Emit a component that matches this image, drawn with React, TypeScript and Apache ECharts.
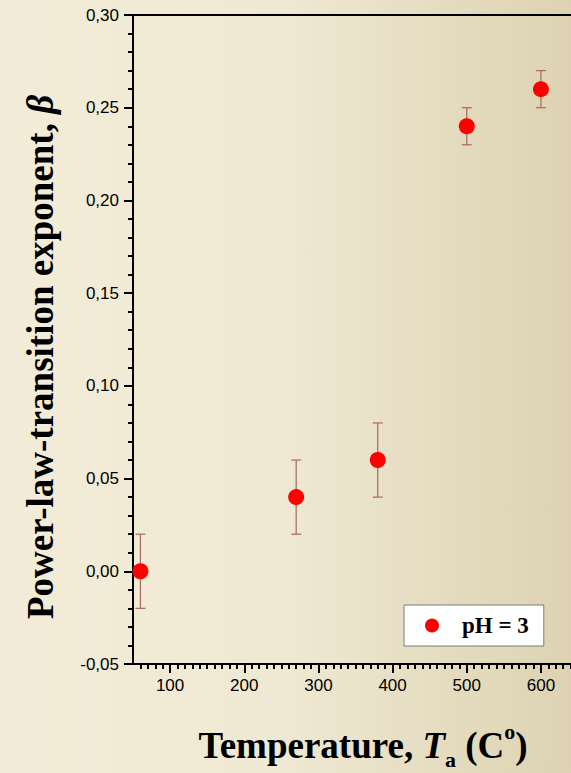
import React, { useEffect, useRef } from "react";
import * as echarts from "echarts";

// Data
const temperatures = [60, 270, 380, 500, 600];
const betaValues = [0.0, 0.04, 0.06, 0.24, 0.26];
const betaErrors = [0.02, 0.02, 0.02, 0.01, 0.01];
const seriesName = "pH = 3";
const yTitle = "Power-law-transition exponent, ";
const xTitle = "Temperature, ";
const xMajorTicks = [100, 200, 300, 400, 500, 600];
const xMinorTicks: number[] = [];
for (let v = 60; v < 650; v += 10) if (v % 100 !== 0) xMinorTicks.push(v);

const BG_LEFT = "#f3ecd8";
const BG_MID = "#efe8d2";
const BG_RIGHT = "#ddd3b2";

export default function App() {
  const ref = useRef<HTMLDivElement>(null);
  useEffect(() => {
    if (!ref.current) return;
    const chart = echarts.init(ref.current, undefined, { renderer: "svg" });
    const scatterData = temperatures.map((t, i) => [t, betaValues[i]]);
    const errData = temperatures.map((t, i) => [
      t,
      betaValues[i] - betaErrors[i],
      betaValues[i] + betaErrors[i],
    ]);
    const tickLabel = {
      color: "#000",
      fontFamily: "Liberation Sans, Arial, sans-serif",
      fontSize: 17,
    };
    const blackLine = { color: "#000", width: 2 };
    const gridRect = { left: 133, top: 15, width: 445, height: 649, outerBoundsMode: "none", containLabel: false };
    const option: any = {
      animation: false,
      backgroundColor: "transparent",
      grid: [gridRect, gridRect],
      xAxis: [
        {
          gridIndex: 0,
          type: "value",
          min: 50,
          max: 650,
          position: "bottom",
          axisLine: { show: true, onZero: false, lineStyle: blackLine },
          axisTick: { show: true, length: 9, lineStyle: blackLine, customValues: xMajorTicks },
          splitLine: { show: false },
          axisLabel: { ...tickLabel, margin: 13, customValues: xMajorTicks },
        },
        {
          gridIndex: 0,
          type: "value",
          min: 50,
          max: 650,
          position: "top",
          axisLine: { show: true, onZero: false, lineStyle: blackLine },
          axisTick: { show: false },
          axisLabel: { show: false },
          splitLine: { show: false },
        },
        {
          gridIndex: 1,
          type: "value",
          min: 50,
          max: 650,
          position: "bottom",
          axisLine: { show: false, onZero: false },
          axisTick: { show: true, length: 5, lineStyle: blackLine, customValues: xMinorTicks },
          axisLabel: { show: false },
          splitLine: { show: false },
        },
      ],
      yAxis: [
        {
          gridIndex: 0,
          type: "value",
          min: -0.05,
          max: 0.3,
          interval: 0.05,
          axisLine: { show: true, onZero: false, lineStyle: blackLine },
          axisTick: { show: true, length: 9, lineStyle: blackLine },
          minorTick: { show: true, splitNumber: 5, length: 5, lineStyle: blackLine },
          splitLine: { show: false },
          axisLabel: {
            ...tickLabel,
            margin: 14,
            formatter: (v: number) =>
              (Math.abs(v) < 1e-9 ? 0 : v).toFixed(2).replace(".", ","),
          },
        },
        {
          gridIndex: 1,
          type: "value",
          min: -0.05,
          max: 0.3,
          show: false,
        },
      ],
      legend: {
        show: true,
        left: 404,
        top: 605,
        orient: "horizontal",
        backgroundColor: "#ffffff",
        borderColor: "#7a7a7a",
        borderWidth: 1,
        borderRadius: 0,
        padding: [9, 15, 9, 21],
        itemWidth: 14,
        itemHeight: 14,
        data: [{ name: seriesName, icon: "circle" }],
        textStyle: {
          color: "#000",
          fontFamily: "Liberation Serif, Times New Roman, serif",
          fontWeight: "bold",
          fontSize: 23,
          lineHeight: 16,
          padding: [0, 0, 0, 18],
        },
      },
      series: [
        {
          type: "custom",
          name: "errors",
          xAxisIndex: 0,
          yAxisIndex: 0,
          data: errData,
          z: 2,
          renderItem: (params: any, api: any) => {
            const x = api.value(0);
            const lo = api.coord([x, api.value(1)]);
            const hi = api.coord([x, api.value(2)]);
            const w = 5;
            const style = { stroke: "#a8685f", lineWidth: 1.2 };
            return {
              type: "group",
              children: [
                { type: "line", shape: { x1: hi[0], y1: hi[1], x2: lo[0], y2: lo[1] }, style },
                { type: "line", shape: { x1: hi[0] - w, y1: hi[1], x2: hi[0] + w, y2: hi[1] }, style },
                { type: "line", shape: { x1: lo[0] - w, y1: lo[1], x2: lo[0] + w, y2: lo[1] }, style },
              ],
            };
          },
        },
        {
          type: "scatter",
          name: seriesName,
          xAxisIndex: 0,
          yAxisIndex: 0,
          data: scatterData,
          symbol: "circle",
          symbolSize: 16,
          itemStyle: { color: "#ff0000", opacity: 1 },
          z: 3,
        },
      ],
      graphic: [
        {
          type: "text",
          z: 100,
          x: 40,
          y: 357,
          rotation: Math.PI / 2,
          style: {
            text: `{n|${yTitle}}{b|β}`,
            align: "center",
            verticalAlign: "middle",
            fill: "#000",
            rich: {
              n: {
                fontFamily: "Liberation Serif, Times New Roman, serif",
                fontWeight: "bold",
                fontSize: 37,
                fill: "#000",
              },
              b: {
                fontFamily: "Liberation Serif, Times New Roman, serif",
                fontWeight: "bold",
                fontStyle: "italic",
                fontSize: 37,
                fill: "#000",
              },
            },
          },
        },
        {
          type: "text",
          z: 100,
          x: 363,
          y: 745,
          style: {
            text: `{n|${xTitle}}{i|T}{s|a}{n| (C}{o|o}{n|)}`,
            align: "center",
            verticalAlign: "middle",
            fill: "#000",
            rich: {
              n: {
                fontFamily: "Liberation Serif, Times New Roman, serif",
                fontWeight: "bold",
                fontSize: 37,
                lineHeight: 50,
                verticalAlign: "middle",
                fill: "#000",
              },
              i: {
                fontFamily: "Liberation Serif, Times New Roman, serif",
                fontWeight: "bold",
                fontStyle: "italic",
                fontSize: 37,
                lineHeight: 50,
                verticalAlign: "middle",
                fill: "#000",
              },
              s: {
                fontFamily: "Liberation Serif, Times New Roman, serif",
                fontWeight: "bold",
                fontSize: 22,
                lineHeight: 22,
                verticalAlign: "bottom",
                fill: "#000",
              },
              o: {
                fontFamily: "Liberation Serif, Times New Roman, serif",
                fontWeight: "bold",
                fontSize: 22,
                lineHeight: 26,
                verticalAlign: "top",
                fill: "#000",
              },
            },
          },
        },
      ],
    };
    chart.setOption(option);
    return () => chart.dispose();
  }, []);
  return (
    <div
      style={{
        position: "fixed",
        left: 0,
        top: 0,
        width: 571,
        height: 773,
        background: `linear-gradient(to right, ${BG_LEFT} 0%, ${BG_MID} 50%, ${BG_RIGHT} 100%)`,
      }}
    >
      <div ref={ref} style={{ width: 571, height: 773 }} />
    </div>
  );
}
